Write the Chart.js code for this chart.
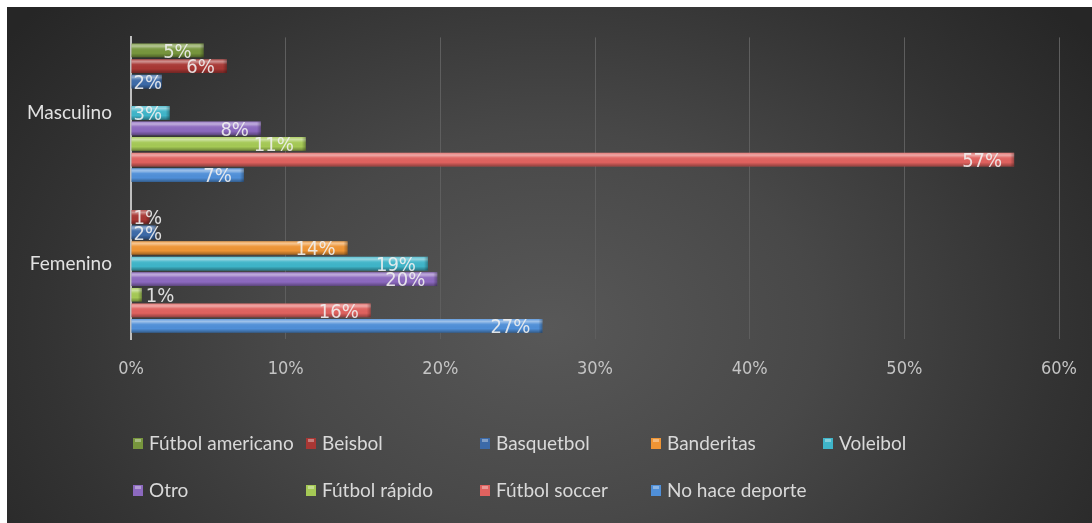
<!DOCTYPE html>
<html>
<head>
<meta charset="utf-8">
<script src="https://cdn.jsdelivr.net/npm/chart.js@4"></script>
<style>
  html,body{margin:0;padding:0;background:#fff;}
  #wrap{position:absolute;left:7px;top:7px;width:1085px;height:516px;
    background: radial-gradient(ellipse 62% 95% at 50% 62%, #585858 0%, #484848 40%, #333 75%, #262626 100%);}
  canvas{display:block;}
</style>
</head>
<body>
<div id="wrap"><canvas id="c" width="1085" height="516"></canvas></div>
<script>
const categories = ['Masculino', 'Femenino'];
const seriesNames = ['Fútbol americano','Beisbol','Basquetbol','Banderitas','Voleibol','Otro','Fútbol rápido','Fútbol soccer','No hace deporte'];
const futbolAmericano = [4.7, null];
const beisbol = [6.2, 1.2];
const basquetbol = [2.0, 1.6];
const banderitas = [null, 14.0];
const voleibol = [2.5, 19.2];
const otro = [8.4, 19.8];
const futbolRapido = [11.3, 0.7];
const futbolSoccer = [57.1, 15.5];
const noHaceDeporte = [7.3, 26.6];
const xTicks = [0, 10, 20, 30, 40, 50, 60];
const colors = ['#77963d','#a83734','#3c6aa8','#ee9434','#3fb5c9','#8c69bf','#a5c955','#e0625f','#4f8fd8'];

const seriesValues = [futbolAmericano, beisbol, basquetbol, banderitas, voleibol, otro, futbolRapido, futbolSoccer, noHaceDeporte];
const narrowFont = '"Liberation Sans Narrow", "DejaVu Sans Condensed", "Roboto Condensed", sans-serif';

const bevelPlugin = {
  id: 'bevel',
  afterDatasetsDraw(chart) {
    const ctx = chart.ctx;
    chart.data.datasets.forEach((ds, i) => {
      const meta = chart.getDatasetMeta(i);
      meta.data.forEach((bar, j) => {
        if (ds.data[j] == null) return;
        const top = bar.y - bar.height / 2, h = bar.height;
        const x0 = Math.min(bar.base, bar.x), w = Math.abs(bar.x - bar.base);
        const g = ctx.createLinearGradient(0, top, 0, top + h);
        g.addColorStop(0, 'rgba(255,255,255,0.15)');
        g.addColorStop(0.18, 'rgba(255,255,255,0.45)');
        g.addColorStop(0.38, 'rgba(255,255,255,0.05)');
        g.addColorStop(0.7, 'rgba(0,0,0,0.0)');
        g.addColorStop(1, 'rgba(0,0,0,0.35)');
        ctx.save();
        ctx.fillStyle = g;
        ctx.fillRect(x0, top, w, h);
        const e = Math.min(4, w);
        const g2 = ctx.createLinearGradient(x0 + w - e, 0, x0 + w, 0);
        g2.addColorStop(0, 'rgba(0,0,0,0)');
        g2.addColorStop(1, 'rgba(0,0,0,0.3)');
        ctx.fillStyle = g2;
        ctx.fillRect(x0 + w - e, top, e, h);
        ctx.restore();
      });
    });
  }
};

const labelPlugin = {
  id: 'vlabels',
  afterDatasetsDraw(chart) {
    const ctx = chart.ctx;
    ctx.save();
    ctx.font = '20px ' + narrowFont;
    ctx.fillStyle = 'rgba(240,240,240,0.9)';
    ctx.textBaseline = 'middle';
    ctx.textAlign = 'left';
    chart.data.datasets.forEach((ds, i) => {
      const meta = chart.getDatasetMeta(i);
      meta.data.forEach((bar, j) => {
        const v = ds.data[j];
        if (v == null) return;
        const txt = Math.round(v) + '%';
        const tw = ctx.measureText(txt).width;
        const len = bar.x - bar.base;
        let left;
        if (len < 12) left = bar.x + 4;
        else left = Math.max(bar.x - 12 - tw, bar.base + 2);
        ctx.fillText(txt, left, bar.y + 2);
      });
    });
    ctx.restore();
  }
};

const legendPlugin = {
  id: 'gridLegend',
  afterDraw(chart) {
    const ctx = chart.ctx;
    const colX = [126, 299, 473, 644, 816];
    const rowY = [436, 483];
    ctx.save();
    ctx.font = '19px Lato, "Open Sans", sans-serif';
    ctx.textBaseline = 'middle';
    ctx.textAlign = 'left';
    seriesNames.forEach((name, k) => {
      const r = Math.floor(k / 5), c = k % 5;
      const x = colX[c], y = rowY[r];
      ctx.fillStyle = colors[k];
      ctx.fillRect(x, y - 5, 10, 11);
      ctx.fillStyle = 'rgba(255,255,255,0.35)';
      ctx.fillRect(x + 2, y - 4, 6, 3);
      ctx.fillStyle = '#d9d9d9';
      ctx.fillText(name, x + 16, y + 1);
    });
    ctx.restore();
  }
};

new Chart(document.getElementById('c'), {
  type: 'bar',
  data: {
    labels: categories,
    datasets: seriesNames.map((n, i) => ({
      label: n,
      data: seriesValues[i],
      backgroundColor: colors[i],
      borderWidth: 0,
      categoryPercentage: 0.93,
      barPercentage: 0.88
    }))
  },
  options: {
    indexAxis: 'y',
    responsive: false,
    animation: false,
    layout: { padding: { top: 30, right: 33, left: 0, bottom: 0 } },
    plugins: { legend: { display: false }, tooltip: { enabled: false }, title: { display: false } },
    scales: {
      x: {
        min: 0, max: 60,
        afterBuildTicks(scale) { scale.ticks = xTicks.map(v => ({ value: v })); },
        afterFit(scale) { scale.height = 184; scale.paddingRight = 0; scale.paddingLeft = 0; },
        grid: { color: '#5e5e5e', lineWidth: 1, drawTicks: false },
        border: { display: false },
        ticks: {
          color: '#c4c4c4', padding: 20,
          font: { family: narrowFont, size: 18 },
          callback: v => v + '%'
        }
      },
      y: {
        afterFit(scale) { scale.width = 124; },
        grid: { display: false, drawTicks: false },
        border: { display: true, color: '#bfbfbf', width: 2 },
        ticks: {
          color: '#e2e2e2', padding: 19,
          font: { family: 'Lato, "Open Sans", sans-serif', size: 19 }
        }
      }
    }
  },
  plugins: [bevelPlugin, labelPlugin, legendPlugin]
});
</script>
</body>
</html>
